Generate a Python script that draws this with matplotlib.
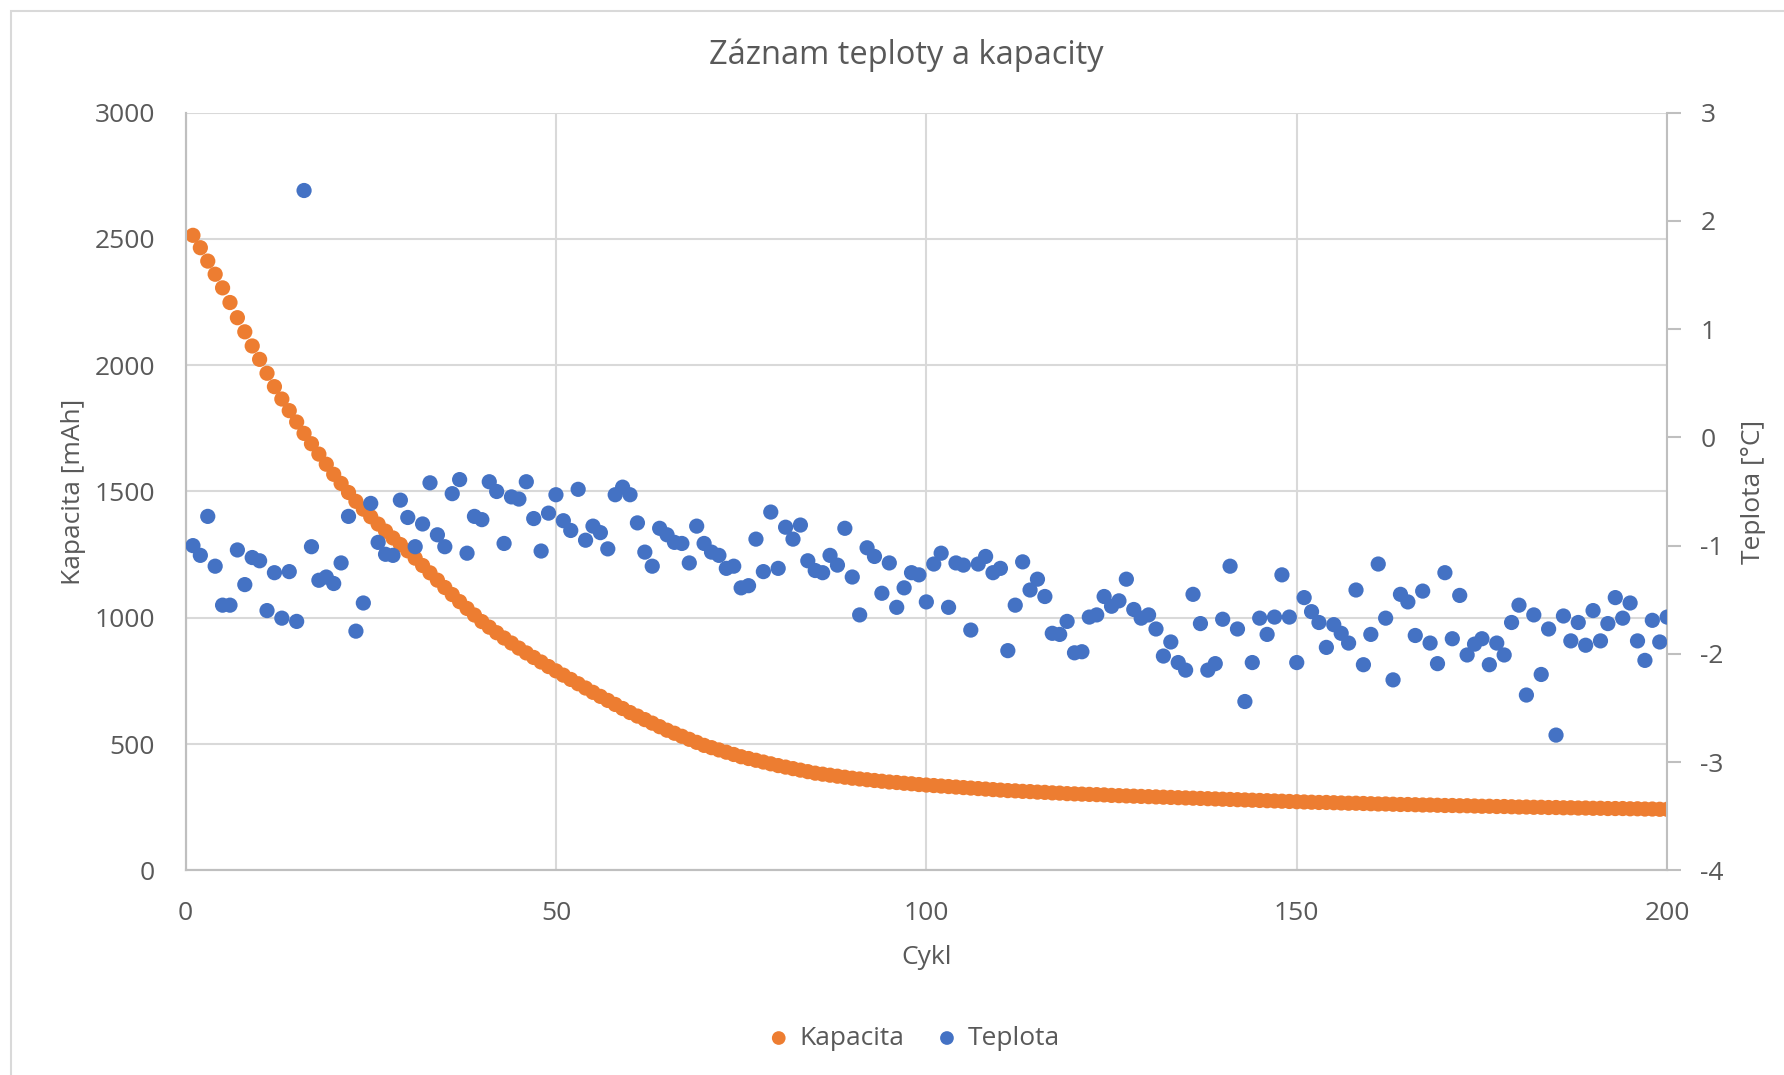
import matplotlib.pyplot as plt
from matplotlib.patches import Rectangle

# Kapacita [mAh] per cycle 1..200
kapacita = [
    2514, 2465, 2412, 2360, 2306, 2248, 2188, 2132, 2076, 2023,
    1968, 1915, 1866, 1820, 1775, 1730, 1689, 1648, 1608, 1568,
    1532, 1496, 1461, 1430, 1400, 1371, 1343, 1316, 1290, 1265,
    1236, 1207, 1178, 1149, 1120, 1092, 1064, 1037, 1011, 985,
    963, 941, 920, 900, 880, 861, 843, 825, 807, 790,
    773, 756, 739, 722, 705, 689, 673, 657, 641, 625,
    611, 597, 583, 569, 555, 543, 531, 519, 507, 495,
    486, 477, 468, 459, 450, 443, 436, 429, 422, 415,
    409, 403, 397, 391, 385, 381, 377, 373, 369, 365,
    362, 359, 356, 353, 350, 348, 345, 343, 340, 338,
    336, 334, 332, 330, 328, 326, 324, 322, 320, 318,
    316, 315, 313, 312, 310, 309, 307, 306, 304, 303,
    302, 301, 300, 299, 297, 296, 295, 294, 293, 292,
    291, 290, 289, 288, 287, 286, 285, 284, 283, 282,
    281, 280, 279, 278, 277, 276, 275, 274, 273, 272,
    271, 270, 269, 269, 268, 267, 266, 266, 265, 264,
    263, 263, 262, 261, 261, 260, 259, 259, 258, 257,
    257, 256, 256, 255, 254, 254, 253, 253, 252, 251,
    251, 250, 250, 249, 249, 248, 248, 247, 247, 246,
    246, 245, 245, 245, 244, 244, 243, 243, 242, 242,
]

# Teplota [°C] per cycle 1..200
teplota = [
    -1.00, -1.09, -0.73, -1.19, -1.55, -1.55, -1.04, -1.36, -1.11, -1.14,
    -1.60, -1.25, -1.67, -1.24, -1.70, 2.28, -1.01, -1.32, -1.29, -1.35,
    -1.16, -0.73, -1.79, -1.53, -0.61, -0.97, -1.08, -1.09, -0.58, -0.74,
    -1.01, -0.80, -0.42, -0.90, -1.01, -0.52, -0.39, -1.07, -0.73, -0.76,
    -0.41, -0.50, -0.98, -0.55, -0.57, -0.41, -0.75, -1.05, -0.70, -0.53,
    -0.77, -0.86, -0.48, -0.95, -0.82, -0.88, -1.03, -0.53, -0.46, -0.53,
    -0.79, -1.06, -1.19, -0.84, -0.90, -0.97, -0.98, -1.16, -0.82, -0.98,
    -1.06, -1.09, -1.21, -1.19, -1.39, -1.37, -0.94, -1.24, -0.69, -1.21,
    -0.83, -0.94, -0.81, -1.14, -1.23, -1.25, -1.09, -1.18, -0.84, -1.29,
    -1.64, -1.02, -1.10, -1.44, -1.16, -1.57, -1.39, -1.25, -1.27, -1.52,
    -1.17, -1.07, -1.57, -1.16, -1.18, -1.78, -1.17, -1.10, -1.25, -1.21,
    -1.97, -1.55, -1.15, -1.41, -1.31, -1.47, -1.81, -1.82, -1.70, -1.99,
    -1.98, -1.66, -1.64, -1.47, -1.56, -1.51, -1.31, -1.59, -1.67, -1.64,
    -1.77, -2.02, -1.89, -2.08, -2.15, -1.45, -1.72, -2.15, -2.09, -1.68,
    -1.19, -1.77, -2.44, -2.08, -1.67, -1.82, -1.66, -1.27, -1.66, -2.08,
    -1.48, -1.61, -1.71, -1.94, -1.73, -1.81, -1.90, -1.41, -2.10, -1.82,
    -1.17, -1.67, -2.24, -1.45, -1.52, -1.83, -1.42, -1.90, -2.09, -1.25,
    -1.86, -1.46, -2.01, -1.91, -1.86, -2.10, -1.90, -2.01, -1.71, -1.55,
    -2.38, -1.64, -2.19, -1.77, -2.75, -1.65, -1.88, -1.71, -1.92, -1.60,
    -1.88, -1.72, -1.48, -1.67, -1.53, -1.88, -2.06, -1.69, -1.89, -1.66,
]

cykly = list(range(1, len(kapacita) + 1))

orange = '#ED7D31'
blue = '#4472C4'
text_col = '#595959'
grid_col = '#D9D9D9'

plt.rcParams['font.family'] = ['Open Sans', 'DejaVu Sans']
plt.rcParams['axes.unicode_minus'] = False

fig = plt.figure(figsize=(17.84, 10.75), dpi=100)
ax = fig.add_axes([0.104, 0.1903, 0.8305, 0.705])
ax2 = ax.twinx()

ax.scatter(cykly, kapacita, s=120, color=orange, edgecolors='none', zorder=3, label='Kapacita')
ax2.scatter(cykly, teplota, s=120, color=blue, edgecolors='none', zorder=3, label='Teplota')

ax.set_xlim(0, 200)
ax.set_ylim(0, 3000)
ax2.set_ylim(-4, 3)
ax.set_xticks(range(0, 201, 50))
ax.set_yticks(range(0, 3001, 500))
ax2.set_yticks(range(-4, 4))

ax.grid(True, color=grid_col, linewidth=1.5)
ax.set_axisbelow(True)

for a in (ax, ax2):
    a.spines['top'].set_visible(False)
    for side in ('left', 'bottom', 'right'):
        a.spines[side].set_color('#BFBFBF')
        a.spines[side].set_linewidth(1.5)
ax.spines['right'].set_visible(False)

ax.tick_params(axis='y', length=0, labelsize=19, labelcolor=text_col, pad=22)
ax.tick_params(axis='x', length=0, labelsize=19, labelcolor=text_col, pad=22)
ax2.tick_params(axis='y', length=10, width=1.5, color='#BFBFBF', labelsize=19,
                labelcolor=text_col, pad=14)

ax.set_xlabel('Cykl', fontsize=19, color=text_col, labelpad=14)
ax.set_ylabel('Kapacita [mAh]', fontsize=19, color=text_col, labelpad=6)
ax2.set_ylabel('Teplota [°C]', fontsize=19, color=text_col, labelpad=12)

fig.text(0.508, 0.949, 'Záznam teploty a kapacity', fontsize=23.5, color=text_col,
         ha='center', va='center')

h1, l1 = ax.get_legend_handles_labels()
h2, l2 = ax2.get_legend_handles_labels()
fig.legend(h1 + h2, l1 + l2, loc='center', bbox_to_anchor=(0.508, 0.034), ncol=2,
           frameon=False, fontsize=19, labelcolor=text_col, handletextpad=-0.2,
           columnspacing=0.6, markerscale=0.9)

# chart-area border
fig.patches.append(Rectangle((11 / 1784, -0.1), 1.2, 1.1 - 11 / 1075,
                             transform=fig.transFigure, fill=False,
                             edgecolor='#D9D9D9', linewidth=1.5))

fig.savefig('out.png', dpi=100)
